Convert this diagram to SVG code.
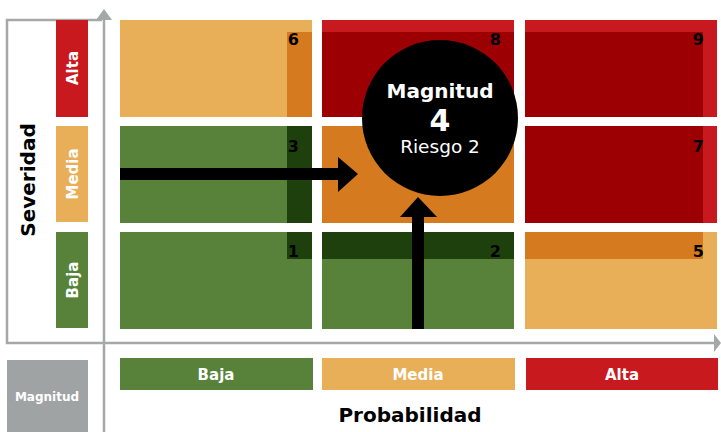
<svg xmlns="http://www.w3.org/2000/svg" width="721" height="432" viewBox="0 0 721 432">
<style>
.lo{fill:#E9AF58}.do{fill:#D57A1E}.rd{fill:#C8191F}.dr{fill:#9D0003}.gn{fill:#58823A}.dg{fill:#1E400C}
.f{font-family:"DejaVu Sans","Liberation Sans",sans-serif}
.num{font-family:"DejaVu Sans","Liberation Sans",sans-serif;font-weight:bold;font-size:16px;fill:#000;text-anchor:end}
.lbl{font-family:"DejaVu Sans","Liberation Sans",sans-serif;font-weight:bold;font-size:15px;fill:#fff;text-anchor:middle}
.ttl{font-family:"DejaVu Sans","Liberation Sans",sans-serif;font-weight:bold;font-size:20px;fill:#000;text-anchor:middle}
.axis{stroke:#A6A8A8;stroke-width:2.5;fill:none}
</style>
<rect width="721" height="432" fill="#fff"/>
<g id="axes">
<path class="axis" d="M102,20 H7 V343 H716"/>
<path class="axis" d="M104,18 V432"/>
<polygon points="104,9 96,20 112,20" fill="#A6A8A8"/>
<polygon points="721,343 714,334 714,352" fill="#A6A8A8"/>
</g>
<g id="severidad-label"><text class="ttl" transform="translate(35,180) rotate(-90)">Severidad</text></g>
<g id="sev-alta"><rect class="rd" x="56" y="20" width="32" height="97"/><text class="lbl" transform="translate(78,68) rotate(-90)">Alta</text></g>
<g id="sev-media"><rect class="lo" x="56" y="126" width="32" height="96"/><text class="lbl" transform="translate(78,174) rotate(-90)">Media</text></g>
<g id="sev-baja"><rect class="gn" x="56" y="232" width="32" height="96"/><text class="lbl" transform="translate(78,280) rotate(-90)">Baja</text></g>

<g id="cell6"><rect class="lo" x="120" y="20" width="192" height="97"/><rect class="do" x="287" y="32" width="25" height="85"/><text class="num" x="299" y="45">6</text></g>
<g id="cell8"><rect class="rd" x="322" y="20" width="192" height="97"/><rect class="dr" x="322" y="32" width="192" height="85"/><text class="num" x="501" y="45">8</text></g>
<g id="cell9"><rect class="rd" x="525" y="20" width="192" height="97"/><rect class="dr" x="525" y="32" width="178" height="85"/><text class="num" x="704" y="45">9</text></g>
<g id="cell3"><rect class="gn" x="120" y="126" width="192" height="97"/><rect class="dg" x="287" y="126" width="25" height="97"/><text class="num" x="299" y="152">3</text></g>
<g id="cell4"><rect class="do" x="322" y="126" width="192" height="97"/></g>
<g id="cell7"><rect class="rd" x="525" y="126" width="192" height="97"/><rect class="dr" x="525" y="126" width="178" height="97"/><text class="num" x="704" y="152">7</text></g>
<g id="cell1"><rect class="gn" x="120" y="232" width="192" height="97"/><rect class="dg" x="287" y="232" width="25" height="27"/><text class="num" x="299" y="257">1</text></g>
<g id="cell2"><rect class="gn" x="322" y="232" width="192" height="97"/><rect class="dg" x="322" y="232" width="192" height="27"/><text class="num" x="501" y="257">2</text></g>
<g id="cell5"><rect class="lo" x="525" y="232" width="192" height="97"/><rect class="do" x="525" y="232" width="178" height="27"/><text class="num" x="704" y="257">5</text></g>

<g id="magnitud-circle">
<circle cx="440" cy="118" r="78" fill="#000"/>
<text class="f" x="440" y="98" font-weight="bold" font-size="20" fill="#fff" text-anchor="middle">Magnitud</text>
<text class="f" x="440" y="131" font-weight="bold" font-size="30" fill="#fff" text-anchor="middle">4</text>
<text class="f" x="440" y="153" font-size="18.5" fill="#fff" text-anchor="middle">Riesgo 2</text>
</g>

<g id="connectors">
<rect x="120" y="168" width="220" height="12" fill="#000"/>
<polygon points="338,157 358,174 338,192" fill="#000"/>
<rect x="412" y="215" width="12" height="114" fill="#000"/>
<polygon points="400,217 418,197 437,217" fill="#000"/>
</g>

<g id="prob-baja"><rect class="gn" x="120" y="358" width="193" height="32"/><text class="lbl" x="216" y="380">Baja</text></g>
<g id="prob-media"><rect class="lo" x="322" y="358" width="193" height="32"/><text class="lbl" x="418" y="380">Media</text></g>
<g id="prob-alta"><rect class="rd" x="526" y="358" width="192" height="32"/><text class="lbl" x="622" y="380">Alta</text></g>
<g id="probabilidad-label"><text class="ttl" x="410" y="422">Probabilidad</text></g>
<g id="magnitud-box"><rect x="7" y="360" width="81" height="72" fill="#A0A3A4"/><text class="f" x="47" y="401" font-weight="bold" font-size="12" fill="#fff" text-anchor="middle">Magnitud</text></g>
</svg>
